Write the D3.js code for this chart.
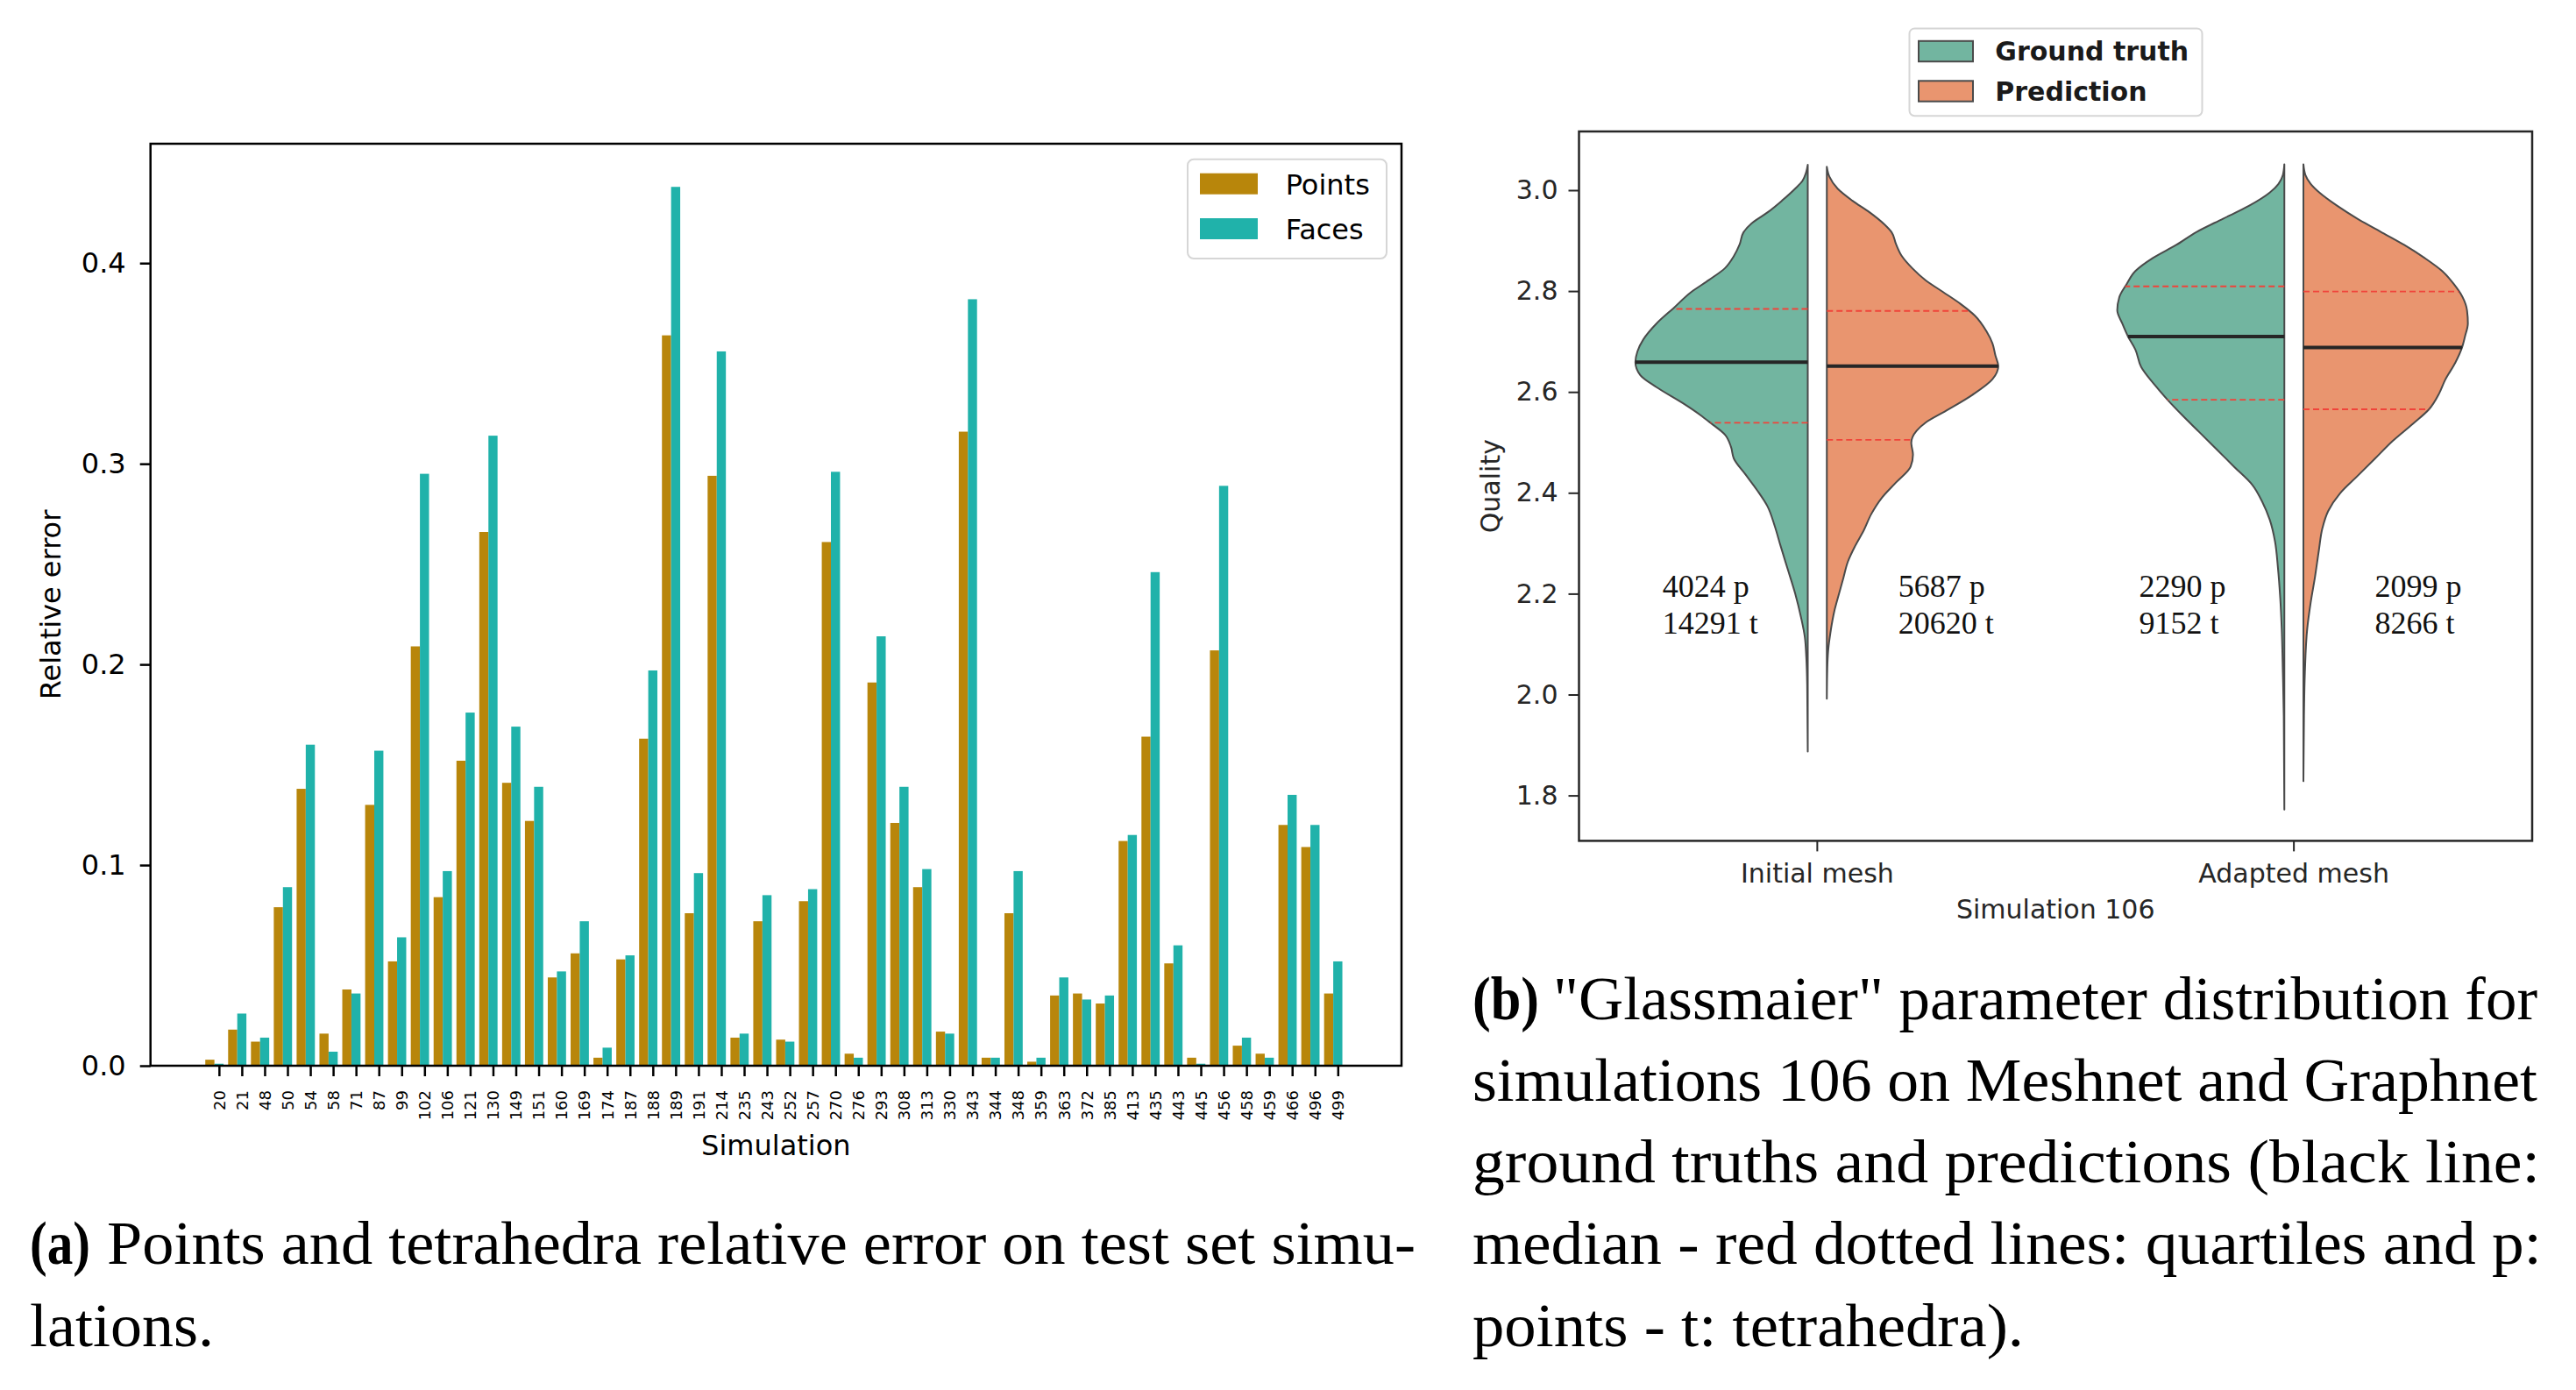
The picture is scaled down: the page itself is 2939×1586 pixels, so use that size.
<!DOCTYPE html>
<html>
<head>
<meta charset="utf-8">
<script src="https://cdn.jsdelivr.net/npm/d3@7"></script>
<style>
  body { margin: 0; background: #fff; }
  svg { display: block; }
</style>
</head>
<body>
<div id="chart-area"></div>
<script>
// ---- data: bar chart (a) ----
var simIds = ["20","21","48","50","54","58","71","87","99","102","106","121","130","149","151","160","169","174","187","188",
              "189","191","214","235","243","252","257","270","276","293","308","313","330","343","344","348","359","363","372","385",
              "413","435","443","445","456","458","459","466","496","499"];
var pointsErr = [0.003,0.018,0.012,0.079,0.138,0.016,0.038,0.130,0.052,0.209,0.084,0.152,0.266,0.141,0.122,0.044,0.056,0.004,0.053,0.163,
                 0.364,0.076,0.294,0.014,0.072,0.013,0.082,0.261,0.006,0.191,0.121,0.089,0.017,0.316,0.004,0.076,0.002,0.035,0.036,0.031,
                 0.112,0.164,0.051,0.004,0.207,0.010,0.006,0.120,0.109,0.036];
var facesErr  = [0.001,0.026,0.014,0.089,0.160,0.007,0.036,0.157,0.064,0.295,0.097,0.176,0.314,0.169,0.139,0.047,0.072,0.009,0.055,0.197,
                 0.438,0.096,0.356,0.016,0.085,0.012,0.088,0.296,0.004,0.214,0.139,0.098,0.016,0.382,0.004,0.097,0.004,0.044,0.033,0.035,
                 0.115,0.246,0.060,0.001,0.289,0.014,0.004,0.135,0.120,0.052];
var barTicks = [0.0, 0.1, 0.2, 0.3, 0.4];
var barSeries = ["Points", "Faces"];

// ---- data: violin chart (b) ----
var violinGroups = ["Initial mesh", "Adapted mesh"];
var violinSeries = ["Ground truth", "Prediction"];
var violinTicks = [1.8, 2.0, 2.2, 2.4, 2.6, 2.8, 3.0];
// [quality, half width of the density in category units]
var initialTruth = [[3.0502,0],[3.0345,0.0037],[3.0187,0.0110],[3.0030,0.0264],[2.9794,0.0539],[2.9558,0.0846],[2.9361,0.1153],
  [2.9164,0.1349],[2.8928,0.1428],[2.8692,0.1551],[2.8456,0.1735],[2.8220,0.2072],[2.7984,0.2440],[2.7669,0.2808],[2.7354,0.3175],
  [2.7039,0.3451],[2.6803,0.3574],[2.6591,0.3617],[2.6331,0.3513],[2.6095,0.3175],[2.5780,0.2624],[2.5544,0.2256],[2.5387,0.2041],
  [2.5150,0.1735],[2.4915,0.1612],[2.4678,0.1551],[2.4363,0.1306],[2.4049,0.1061],[2.3734,0.0846],[2.3341,0.0693],[2.2947,0.0570],
  [2.2475,0.0417],[2.2003,0.0264],[2.1530,0.0141],[2.1137,0.0061],[2.0743,0.0031],[2.0193,0.0012],[1.8870,0]];
var initialPred = [[3.0463,0],[3.0266,0.0055],[3.0030,0.0227],[2.9794,0.0533],[2.9558,0.0901],[2.9321,0.1208],[2.9164,0.1361],
  [2.8928,0.1453],[2.8692,0.1575],[2.8456,0.1790],[2.8220,0.2066],[2.7984,0.2434],[2.7748,0.2802],[2.7511,0.3108],[2.7197,0.3353],
  [2.6961,0.3476],[2.6724,0.3537],[2.6512,0.3598],[2.6252,0.3476],[2.5937,0.3047],[2.5623,0.2495],[2.5387,0.2066],[2.5229,0.1882],
  [2.4993,0.1772],[2.4757,0.1808],[2.4521,0.1759],[2.4206,0.1453],[2.3891,0.1146],[2.3577,0.0932],[2.3262,0.0779],[2.2947,0.0595],
  [2.2632,0.0441],[2.2317,0.0349],[2.2003,0.0257],[2.1688,0.0166],[2.1216,0.0074],[2.0901,0.0031],[2.0586,0.0012],[1.9917,0]];
var adaptedTruth = [[3.0514,0],[3.0298,0.0031],[3.0125,0.0123],[2.9952,0.0307],[2.9693,0.0736],[2.9434,0.1287],[2.9174,0.1839],
  [2.8915,0.2268],[2.8655,0.2759],[2.8396,0.3126],[2.8137,0.3310],[2.7877,0.3464],[2.7618,0.3506],[2.7359,0.3402],[2.7099,0.3280],
  [2.6840,0.3126],[2.6494,0.3004],[2.6148,0.2728],[2.5846,0.2452],[2.5543,0.2146],[2.5198,0.1778],[2.4852,0.1410],[2.4506,0.1042],
  [2.4160,0.0674],[2.3814,0.0460],[2.3468,0.0307],[2.3036,0.0196],[2.2518,0.0135],[2.1912,0.0086],[2.1307,0.0055],[2.0443,0.0031],
  [1.9578,0.0012],[1.7720,0]];
var adaptedPred = [[3.0514,0],[3.0298,0.0043],[3.0125,0.0153],[2.9952,0.0337],[2.9693,0.0705],[2.9434,0.1134],[2.9174,0.1625],
  [2.8915,0.2115],[2.8655,0.2544],[2.8396,0.2912],[2.8137,0.3157],[2.7877,0.3341],[2.7618,0.3433],[2.7359,0.3451],[2.7099,0.3390],
  [2.6883,0.3329],[2.6581,0.3188],[2.6235,0.2973],[2.5975,0.2851],[2.5656,0.2636],[2.5370,0.2299],[2.5025,0.1870],[2.4679,0.1502],
  [2.4333,0.1134],[2.3987,0.0766],[2.3641,0.0521],[2.3296,0.0398],[2.2863,0.0325],[2.2345,0.0245],[2.1826,0.0153],[2.1307,0.0080],
  [2.0443,0.0031],[1.9578,0.0012],[1.8282,0]];
// [lower quartile, median, upper quartile]
var initialTruthStats = [2.5387, 2.6591, 2.7645];
var initialPredStats  = [2.5049, 2.6512, 2.7606];
var adaptedTruthStats = [2.5846, 2.7099, 2.8093];
var adaptedPredStats  = [2.5656, 2.6883, 2.7990];
var countLabels = [["4024 p", "14291 t"], ["5687 p", "20620 t"], ["2290 p", "9152 t"], ["2099 p", "8266 t"]];

var sans = "'DejaVu Sans', sans-serif";
var serif = "'Liberation Serif', 'DejaVu Serif', serif";

var svg = d3.select('#chart-area')
    .append('svg')
        .attr('width', 2939)
        .attr('height', 1586);

svg.append('rect').attr('width', 2939).attr('height', 1586).attr('fill', '#fff');

// ================= (a) bar chart =================
var bar = {left: 171.7, right: 1599, top: 164, bottom: 1216};
var barColor = {Points: '#b8860b', Faces: '#20b2aa'};

var x = d3.scaleLinear().domain([-3.0, 51.79]).range([bar.left, bar.right]);
var y = d3.scaleLinear().domain([0, 0.4595]).range([bar.bottom, bar.top]);

var ga = svg.append('g');

var idx = d3.range(simIds.length);

ga.selectAll('rect.points')
    .data(idx)
    .enter().append('rect')
        .attr('class', 'points')
        .attr('x', (i) => x(i - 0.6))
        .attr('y', (i) => y(pointsErr[i]))
        .attr('width', (i) => x(i - 0.2) - x(i - 0.6))
        .attr('height', (i) => y(0) - y(pointsErr[i]))
        .attr('fill', barColor.Points);

ga.selectAll('rect.faces')
    .data(idx)
    .enter().append('rect')
        .attr('class', 'faces')
        .attr('x', (i) => x(i - 0.2))
        .attr('y', (i) => y(facesErr[i]))
        .attr('width', (i) => x(i + 0.2) - x(i - 0.2))
        .attr('height', (i) => y(0) - y(facesErr[i]))
        .attr('fill', barColor.Faces);

var leftAxis = d3.axisLeft(y).tickValues(barTicks).tickFormat(d3.format('.1f')).tickSize(12).tickPadding(16);
var ya = ga.append('g')
    .attr('transform', 'translate(' + bar.left + ',0)')
    .call(leftAxis);
ya.select('.domain').remove();
ya.selectAll('line').attr('stroke', '#000').attr('stroke-width', 2.5);
ya.selectAll('text').attr('font-family', sans).attr('font-size', 32).attr('fill', '#000');

var bottomAxis = d3.axisBottom(x).tickValues(idx).tickFormat((i) => simIds[i]).tickSize(12);
var xa = ga.append('g')
    .attr('transform', 'translate(0,' + bar.bottom + ')')
    .call(bottomAxis);
xa.select('.domain').remove();
xa.selectAll('line').attr('stroke', '#000').attr('stroke-width', 2.5);
xa.selectAll('text')
    .attr('font-family', sans)
    .attr('font-size', 18)
    .attr('fill', '#000')
    .attr('transform', 'rotate(-90)')
    .attr('text-anchor', 'end')
    .attr('x', -28)
    .attr('y', 0)
    .attr('dy', '0.35em');

ga.append('rect')
    .attr('x', bar.left).attr('y', bar.top)
    .attr('width', bar.right - bar.left).attr('height', bar.bottom - bar.top)
    .attr('fill', 'none').attr('stroke', '#000').attr('stroke-width', 2.5);

ga.append('text')
    .attr('x', (bar.left + bar.right) / 2)
    .attr('y', 1318)
    .attr('text-anchor', 'middle')
    .attr('font-family', sans).attr('font-size', 32)
    .text('Simulation');

ga.append('text')
    .attr('transform', 'translate(69,' + ((bar.top + bar.bottom) / 2) + ') rotate(-90)')
    .attr('text-anchor', 'middle')
    .attr('font-family', sans).attr('font-size', 32)
    .text('Relative error');

// legend
var la = ga.append('g');
la.append('rect')
    .attr('x', 1355).attr('y', 181.7).attr('width', 227).attr('height', 113.3)
    .attr('rx', 7).attr('fill', '#fff').attr('fill-opacity', 0.8)
    .attr('stroke', '#d6d6d6').attr('stroke-width', 2);
barSeries.forEach((s, k) => {
    la.append('rect')
        .attr('x', 1369).attr('y', 197.7 + k * 51.3)
        .attr('width', 66).attr('height', 24)
        .attr('fill', barColor[s]);
    la.append('text')
        .attr('x', 1466.7).attr('y', 221.7 + k * 51.3)
        .attr('font-family', sans).attr('font-size', 32)
        .text(s);
});

// ================= (b) violin chart =================
var vio = {left: 1801.5, right: 2889, top: 150, bottom: 959.4};
var vioColor = {'Ground truth': '#72b5a0', 'Prediction': '#e9956f'};
var edge = '#4a4a4a';

var vx = d3.scaleBand().domain(violinGroups).range([vio.left, vio.right]).padding(0);
var bw = vx.bandwidth();
var vy = d3.scaleLinear().domain([1.7100, 3.1164]).range([vio.bottom, vio.top]);
var gap = 0.02;

var gb = svg.append('g');

var halves = [
    {group: 'Initial mesh', series: 'Ground truth', side: -1, prof: initialTruth, stats: initialTruthStats},
    {group: 'Initial mesh', series: 'Prediction', side: 1, prof: initialPred, stats: initialPredStats},
    {group: 'Adapted mesh', series: 'Ground truth', side: -1, prof: adaptedTruth, stats: adaptedTruthStats},
    {group: 'Adapted mesh', series: 'Prediction', side: 1, prof: adaptedPred, stats: adaptedPredStats}
];

halves.forEach((h) => {
    var center = vx(h.group) + bw / 2;
    var inner = center + h.side * gap * bw;
    var area = d3.area()
        .y((d) => vy(d[0]))
        .x0(inner)
        .x1((d) => inner + h.side * d[1] * bw)
        .curve(d3.curveMonotoneY);
    gb.append('path')
        .attr('d', area(h.prof))
        .attr('fill', vioColor[h.series])
        .attr('stroke', edge)
        .attr('stroke-width', 2)
        .attr('stroke-linejoin', 'round');

    var widthAt = d3.scaleLinear()
        .domain(h.prof.map((d) => d[0]))
        .range(h.prof.map((d) => d[1]));

    h.stats.forEach((q, k) => {
        var median = (k === 1);
        gb.append('line')
            .attr('x1', inner)
            .attr('x2', inner + h.side * widthAt(q) * bw)
            .attr('y1', vy(q)).attr('y2', vy(q))
            .attr('stroke', median ? '#262626' : '#f0443a')
            .attr('stroke-width', median ? 4 : 1.8)
            .attr('stroke-dasharray', median ? null : '7,4');
    });
});

// counts annotations
halves.forEach((h, k) => {
    var center = vx(h.group) + bw / 2;
    var off = h.side < 0 ? -0.325 : 0.17;
    countLabels[k].forEach((t, j) => {
        gb.append('text')
            .attr('x', center + off * bw)
            .attr('y', vy(j === 0 ? 2.194 : 2.12))
            .attr('font-family', serif).attr('font-size', 36)
            .attr('fill', '#111')
            .text(t);
    });
});

var vLeft = d3.axisLeft(vy).tickValues(violinTicks).tickFormat(d3.format('.1f')).tickSize(12).tickPadding(12);
var vya = gb.append('g')
    .attr('transform', 'translate(' + vio.left + ',0)')
    .call(vLeft);
vya.select('.domain').remove();
vya.selectAll('line').attr('stroke', '#262626').attr('stroke-width', 2);
vya.selectAll('text').attr('font-family', sans).attr('font-size', 30).attr('fill', '#262626');

var vBottom = d3.axisBottom(vx).tickSize(12).tickPadding(14);
var vxa = gb.append('g')
    .attr('transform', 'translate(0,' + vio.bottom + ')')
    .call(vBottom);
vxa.select('.domain').remove();
vxa.selectAll('line').attr('stroke', '#262626').attr('stroke-width', 2);
vxa.selectAll('text').attr('font-family', sans).attr('font-size', 30).attr('fill', '#262626');

gb.append('rect')
    .attr('x', vio.left).attr('y', vio.top)
    .attr('width', vio.right - vio.left).attr('height', vio.bottom - vio.top)
    .attr('fill', 'none').attr('stroke', '#262626').attr('stroke-width', 2.5);

gb.append('text')
    .attr('x', (vio.left + vio.right) / 2)
    .attr('y', 1048)
    .attr('text-anchor', 'middle')
    .attr('font-family', sans).attr('font-size', 30).attr('fill', '#262626')
    .text('Simulation 106');

gb.append('text')
    .attr('transform', 'translate(1711,' + ((vio.top + vio.bottom) / 2) + ') rotate(-90)')
    .attr('text-anchor', 'middle')
    .attr('font-family', sans).attr('font-size', 30).attr('fill', '#262626')
    .text('Quality');

var lb = gb.append('g');
lb.append('rect')
    .attr('x', 2178.5).attr('y', 32.4).attr('width', 334).attr('height', 99.8)
    .attr('rx', 6).attr('fill', '#fff')
    .attr('stroke', '#d6d6d6').attr('stroke-width', 2);
violinSeries.forEach((s, k) => {
    lb.append('rect')
        .attr('x', 2189).attr('y', 46.8 + k * 45.5)
        .attr('width', 62).attr('height', 23.4)
        .attr('fill', vioColor[s]).attr('stroke', edge).attr('stroke-width', 2);
    lb.append('text')
        .attr('x', 2276.3).attr('y', 69 + k * 46)
        .attr('font-family', sans).attr('font-size', 30).attr('font-weight', 'bold')
        .attr('fill', '#1a1a1a')
        .text(s);
});

// ================= captions =================
var captions = [
    {x: 34, y: 1442, w: 69, bold: true, t: '(a)'},
    {x: 122, y: 1442, w: 1493, t: 'Points and tetrahedra relative error on test set simu-'},
    {x: 34, y: 1536, w: 210, t: 'lations.'},
    {x: 1680, y: 1163, w: 76, bold: true, t: '(b)'},
    {x: 1772, y: 1163, w: 1123, t: '"Glassmaier" parameter distribution for'},
    {x: 1680, y: 1256, w: 1215, t: 'simulations 106 on Meshnet and Graphnet'},
    {x: 1680, y: 1349, w: 1218, t: 'ground truths and predictions (black line:'},
    {x: 1680, y: 1442, w: 1220, t: 'median - red dotted lines: quartiles and p:'},
    {x: 1680, y: 1536, w: 629, t: 'points - t: tetrahedra).'}
];
captions.forEach((c) => {
    var t = svg.append('text')
        .attr('x', c.x).attr('y', c.y)
        .attr('font-family', serif).attr('font-size', 70)
        .attr('font-weight', c.bold ? 'bold' : 'normal')
        .attr('fill', '#000')
        .text(c.t);
    if (c.w) t.attr('textLength', c.w).attr('lengthAdjust', 'spacingAndGlyphs');
});
</script>
</body>
</html>
